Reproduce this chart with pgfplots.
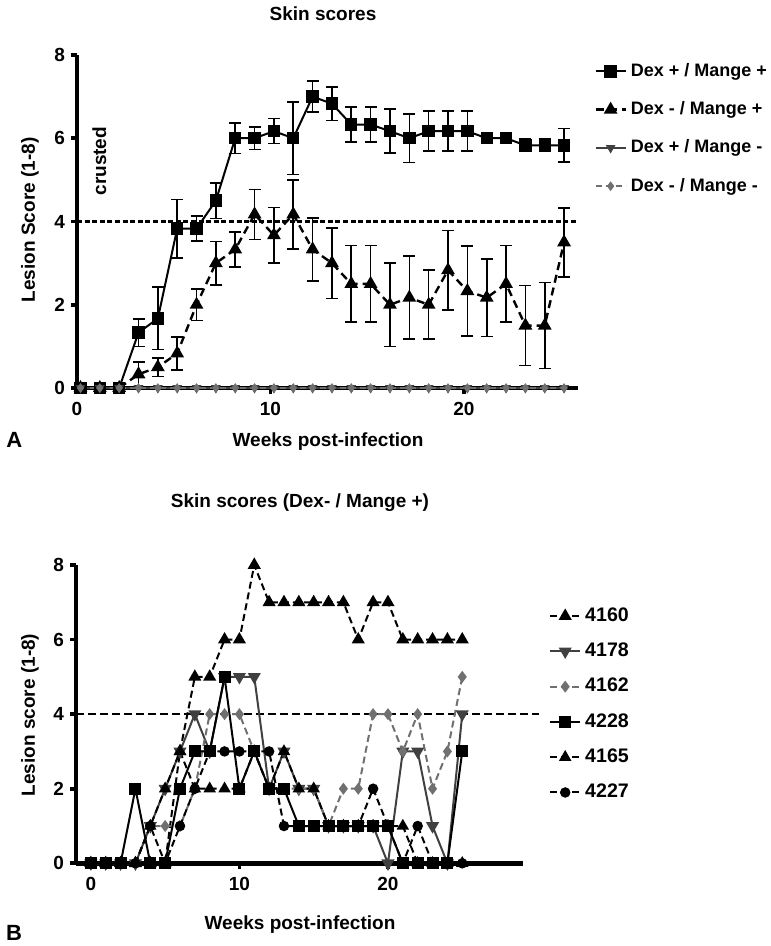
\documentclass[border=0pt]{standalone}
\usepackage{pgfplots}
\pgfplotsset{compat=1.18}
\usepackage{pgfplotstable}
\usepackage{fontspec}
\setmainfont{Liberation Sans}
\definecolor{dgrey}{HTML}{404040}
\definecolor{mgrey}{HTML}{707070}

\pgfplotstableread{
x m1 e1 m2 e2 z
0.18 0 0 0 0 0
1.18 0 0 0 0 0
2.18 0 0 0 0 0
3.18 1.33 0.33 0.33 0.30 0
4.18 1.67 0.75 0.50 0.22 0
5.18 3.83 0.70 0.83 0.40 0
6.18 3.83 0.30 2.00 0.38 0
7.18 4.50 0.43 3.00 0.52 0
8.18 6.00 0.37 3.33 0.42 0
9.18 6.00 0.27 4.17 0.60 0
10.18 6.17 0.30 3.67 0.67 0
11.18 6.00 0.87 4.17 0.83 0
12.18 7.00 0.37 3.33 0.76 0
13.18 6.83 0.40 3.00 0.85 0
14.18 6.33 0.42 2.50 0.92 0
15.18 6.33 0.42 2.50 0.92 0
16.18 6.17 0.53 2.00 1.00 0
17.18 6.00 0.58 2.17 1.00 0
18.18 6.17 0.48 2.00 0.83 0
19.18 6.17 0.48 2.83 0.95 0
20.18 6.17 0.48 2.33 1.08 0
21.18 6.00 0.00 2.17 0.93 0
22.18 6.00 0.00 2.50 0.92 0
23.18 5.83 0.15 1.50 0.96 0
24.18 5.83 0.15 1.50 1.03 0
25.18 5.83 0.40 3.50 0.83 0
}\dataA

\pgfplotstableread{
w a4160 a4178 a4162 a4228 a4165 a4227
0 0 0 0 0 0 0
1 0 0 0 0 0 0
2 0 0 0 0 0 0
3 0 0 0 2 0 0
4 0 1 1 0 1 1
5 0 2 1 0 2 0
6 3 3 1 2 3 1
7 5 4 2 3 2 2
8 5 3 4 3 2 3
9 6 5 4 5 2 3
10 6 5 4 2 2 3
11 8 5 3 3 3 3
12 7 2 2 2 2 3
13 7 3 2 2 3 1
14 7 2 2 1 2 1
15 7 2 2 1 2 1
16 7 1 1 1 1 1
17 7 1 2 1 1 1
18 6 1 2 1 1 1
19 7 1 4 1 1 2
20 7 0 4 1 1 1
21 6 3 3 0 1 0
22 6 3 4 0 0 1
23 6 1 2 0 0 0
24 6 0 3 0 0 0
25 6 4 5 3 0 0
}\dataB

\pgfplotsset{
  prism/.style={
    scale only axis, anchor=south west,
    axis x line=bottom, axis y line=left,
    axis line style={line width=2.4pt,-},
    x axis line style={line width=2.4pt,-},
    y axis line style={line width=2.4pt,-},
    major tick style={line width=1.8pt, black},
    major tick length=3pt,
    tick align=outside,
    ymin=0, ymax=8, ytick={0,2,4,6,8},
    xtick={0,10,20},
    /pgf/number format/assume math mode=true,
    ticklabel style={font=\bfseries\fontsize{9.5}{10}\selectfont},
    yticklabel style={xshift=0.5pt},
    xticklabel style={yshift=-0.5pt},
    clip=false,
    legend cell align=left,
  },
  ebar/.style={error bars/.cd, y dir=both, y explicit,
    error bar style={line width=0.8pt, solid, black},
    error mark options={rotate=90, mark size=3pt, line width=0.8pt, solid, black}},
}

\begin{document}
\begin{tikzpicture}[font=\bfseries]
\path[use as bounding box] (0,0) rectangle (385pt,473pt);

% ---------------- Panel A ----------------
\begin{axis}[prism, at={(38.5pt,279pt)}, width=250.5pt, height=166.5pt,
  xmin=0, xmax=25.9,
  legend style={at={(1.02,1.0)}, anchor=north west, draw=none, fill=none,
    font=\bfseries\fontsize{9.0}{10}\selectfont, row sep=7.1pt},
  legend image code/.code={\draw[#1] (0pt,0pt) -- (15pt,0pt); \draw[#1, only marks] plot coordinates {(7.5pt,0pt)};}]
\addplot[black, line width=1.1pt, dash pattern=on 2.5pt off 1.3pt, forget plot]
  coordinates {(0,4) (25.9,4)};
\addplot[black, line width=1pt, mark=square*, mark size=2.6pt, mark options={solid}, ebar]
  table[x=x, y=m1, y error=e1]{\dataA};
\addlegendentry{Dex + / Mange +}
\addplot[black, line width=1.2pt, dash pattern=on 4pt off 2.5pt, mark=triangle*, mark size=2.8pt, mark options={solid}, ebar]
  table[x=x, y=m2, y error=e2]{\dataA};
\addlegendentry{Dex - / Mange +}
\addplot[dgrey, line width=1pt, mark=triangle*, mark size=1.8pt, mark options={solid, rotate=180}]
  table[x=x, y=z]{\dataA};
\addlegendentry{Dex + / Mange -}
\addplot[mgrey, line width=1pt, dash pattern=on 3pt off 2pt, mark=diamond*, mark size=1.6pt, mark options={solid}]
  table[x=x, y=z]{\dataA};
\addlegendentry{Dex - / Mange -}
\node[rotate=90, font=\bfseries\fontsize{9.5}{10}\selectfont] at (axis cs:1.15,5.45) {crusted};
\end{axis}

% ---------------- Panel B ----------------
\begin{axis}[prism, at={(38pt,41.35pt)}, width=223.35pt, height=149.15pt,
  xmin=-1, xmax=29.07,
  legend style={at={(1.045,0.885)}, anchor=north west, draw=none, fill=none,
    font=\bfseries\fontsize{9.8}{10}\selectfont, row sep=5.3pt},
  legend image code/.code={\draw[#1] (0pt,0pt) -- (15pt,0pt); \draw[#1, only marks] plot coordinates {(7.5pt,0pt)};}]
\addplot[black, line width=1pt, dash pattern=on 4pt off 2pt, forget plot]
  coordinates {(-1,4) (30.2,4)};
\addplot[black, line width=1pt, dash pattern=on 3.5pt off 2pt, mark=triangle*, mark size=2.8pt, mark options={solid}]
  table[x=w, y=a4160]{\dataB};
\addlegendentry{4160}
\addplot[dgrey, line width=1pt, mark=triangle*, mark size=2.8pt, mark options={solid, rotate=180}]
  table[x=w, y=a4178]{\dataB};
\addlegendentry{4178}
\addplot[mgrey, line width=1pt, dash pattern=on 3.5pt off 2pt, mark=diamond*, mark size=2.2pt, mark options={solid}]
  table[x=w, y=a4162]{\dataB};
\addlegendentry{4162}
\addplot[black, line width=1pt, mark=square*, mark size=2.5pt, mark options={solid}]
  table[x=w, y=a4228]{\dataB};
\addlegendentry{4228}
\addplot[black, line width=1pt, dash pattern=on 3.5pt off 2pt, mark=triangle*, mark size=2.6pt, mark options={solid}]
  table[x=w, y=a4165]{\dataB};
\addlegendentry{4165}
\addplot[black, line width=1pt, dash pattern=on 3.5pt off 2pt, mark=*, mark size=2.1pt, mark options={solid}]
  table[x=w, y=a4227]{\dataB};
\addlegendentry{4227}
\end{axis}

% ---------------- Texts ----------------
\node[font=\bfseries\fontsize{9.5}{10}\selectfont] at (161.5pt,466pt) {Skin scores};
\node[font=\bfseries\fontsize{9.5}{10}\selectfont] at (164pt,252pt) {Weeks post-infection};
\node[font=\bfseries\fontsize{9.5}{10}\selectfont, rotate=90] at (15pt,363pt) {Lesion Score (1-8)};
\node[font=\bfseries\fontsize{11}{12}\selectfont] at (7.2pt,253pt) {A};

\node[font=\bfseries\fontsize{9.5}{10}\selectfont] at (150pt,221.6pt) {Skin scores (Dex- / Mange +)};
\node[font=\bfseries\fontsize{9.5}{10}\selectfont] at (150pt,10.5pt) {Weeks post-infection};
\node[font=\bfseries\fontsize{9.5}{10}\selectfont, rotate=90] at (15pt,115.5pt) {Lesion score (1-8)};
\node[font=\bfseries\fontsize{11}{12}\selectfont] at (7pt,6.5pt) {B};
\end{tikzpicture}
\end{document}
